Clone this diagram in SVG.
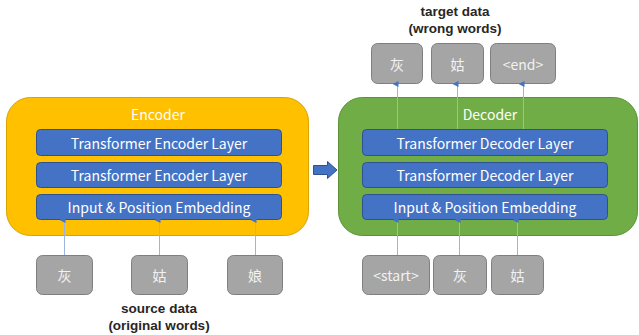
<svg xmlns="http://www.w3.org/2000/svg" width="639" height="335" viewBox="0 0 639 335">
  <defs>
    <marker id="tip" viewBox="0 0 6 6" refX="3" refY="5" markerWidth="6" markerHeight="6" markerUnits="userSpaceOnUse" orient="auto-start-reverse">
      <path d="M0,6 L3,0 L6,6 Z" fill="#4472C4"/>
    </marker>
    <style>
      text { font-family: "Noto Sans CJK SC", "Noto Sans", sans-serif; text-anchor: middle; dominant-baseline: central; }
      .enc { fill: #FFC000; stroke: #D9A300; stroke-width: 1; }
      .dec { fill: #70AD47; stroke: #5B9237; stroke-width: 1; }
      .layer { fill: #4472C4; stroke: #2F528F; stroke-width: 1; }
      .tok { fill: #A5A5A5; stroke: #7F7F7F; stroke-width: 1; }
      .lbl { fill: #FFFFFF; font-size: 14px; }
      .tokt { fill: #F2F2F2; font-size: 14px; }
      .cap { fill: #262626; font-family: "Liberation Sans", Arial, sans-serif; font-size: 13.5px; font-weight: bold; }
      .link { stroke: #9DB4E0; stroke-width: 1; fill: none; marker-end: url(#tip); }
    </style>
  </defs>

  <!-- encoder stack -->
  <g id="encoder">
    <rect class="enc" x="6.5" y="97.5" width="302" height="138" rx="24"/>
    <text class="lbl" x="158" y="114">Encoder</text>
  </g>
  <g id="enc-layer-1">
    <rect class="layer" x="36.5" y="129.5" width="245" height="26" rx="4"/>
    <text class="lbl" x="159" y="142.5">Transformer Encoder Layer</text>
  </g>
  <g id="enc-layer-2">
    <rect class="layer" x="36.5" y="162.5" width="245" height="25" rx="4"/>
    <text class="lbl" x="159" y="175">Transformer Encoder Layer</text>
  </g>
  <g id="enc-embed">
    <rect class="layer" x="36.5" y="194.5" width="245" height="25" rx="4"/>
    <text class="lbl" x="159" y="207">Input &amp; Position Embedding</text>
  </g>

  <!-- decoder stack -->
  <g id="decoder">
    <rect class="dec" x="338.5" y="97.5" width="299" height="138" rx="24"/>
    <text class="lbl" x="490" y="114">Decoder</text>
  </g>
  <g id="dec-layer-1">
    <rect class="layer" x="362.5" y="129.5" width="245" height="26" rx="4"/>
    <text class="lbl" x="485" y="142.5">Transformer Decoder Layer</text>
  </g>
  <g id="dec-layer-2">
    <rect class="layer" x="362.5" y="162.5" width="245" height="25" rx="4"/>
    <text class="lbl" x="485" y="175">Transformer Decoder Layer</text>
  </g>
  <g id="dec-embed">
    <rect class="layer" x="362.5" y="194.5" width="245" height="25" rx="4"/>
    <text class="lbl" x="485" y="207">Input &amp; Position Embedding</text>
  </g>

  <!-- source tokens -->
  <g id="src-1">
    <rect class="tok" x="36.5" y="255.5" width="56" height="39" rx="6"/>
    <text class="tokt" x="64.5" y="275">灰</text>
  </g>
  <g id="src-2">
    <rect class="tok" x="131.5" y="255.5" width="56" height="39" rx="6"/>
    <text class="tokt" x="159.5" y="275">姑</text>
  </g>
  <g id="src-3">
    <rect class="tok" x="227.5" y="255.5" width="55" height="39" rx="6"/>
    <text class="tokt" x="255" y="275">娘</text>
  </g>

  <!-- decoder input tokens -->
  <g id="dec-in-1">
    <rect class="tok" x="362.5" y="255.5" width="67" height="39" rx="6"/>
    <text class="tokt" x="396" y="275">&lt;start&gt;</text>
  </g>
  <g id="dec-in-2">
    <rect class="tok" x="433.5" y="255.5" width="53" height="39" rx="6"/>
    <text class="tokt" x="460" y="275">灰</text>
  </g>
  <g id="dec-in-3">
    <rect class="tok" x="491.5" y="255.5" width="52" height="39" rx="6"/>
    <text class="tokt" x="517.5" y="275">姑</text>
  </g>

  <!-- target tokens -->
  <g id="tgt-1">
    <rect class="tok" x="371.5" y="43.5" width="51" height="40" rx="6"/>
    <text class="tokt" x="397" y="63.5">灰</text>
  </g>
  <g id="tgt-2">
    <rect class="tok" x="431.5" y="43.5" width="52" height="40" rx="6"/>
    <text class="tokt" x="457.5" y="63.5">姑</text>
  </g>
  <g id="tgt-3">
    <rect class="tok" x="490.5" y="43.5" width="65" height="40" rx="6"/>
    <text class="tokt" x="523" y="63.5">&lt;end&gt;</text>
  </g>

  <!-- captions -->
  <g id="source-caption">
    <text class="cap" x="159" y="308">source data</text>
    <text class="cap" x="159" y="325">(original words)</text>
  </g>
  <g id="target-caption">
    <text class="cap" x="455" y="11">target data</text>
    <text class="cap" x="455" y="28">(wrong words)</text>
  </g>

  <!-- connectors -->
  <g id="connectors">
    <line class="link" x1="64.5" y1="255" x2="64.5" y2="220"/>
    <line class="link" x1="159.5" y1="255" x2="159.5" y2="220"/>
    <line class="link" x1="255.5" y1="255" x2="255.5" y2="220"/>
    <line class="link" x1="397.5" y1="255" x2="397.5" y2="220"/>
    <line class="link" x1="459.5" y1="255" x2="459.5" y2="220"/>
    <line class="link" x1="517.5" y1="255" x2="517.5" y2="220"/>
    <line class="link" x1="397.5" y1="129" x2="397.5" y2="84"/>
    <line class="link" x1="457.5" y1="129" x2="457.5" y2="84"/>
    <line class="link" x1="523.5" y1="129" x2="523.5" y2="84"/>
    <path id="handoff" d="M313.5,165.5 H327.5 V161.5 L337,170 L327.5,178.5 V174.5 H313.5 Z" fill="#4472C4" stroke="#2F528F" stroke-width="1"/>
  </g>
</svg>
